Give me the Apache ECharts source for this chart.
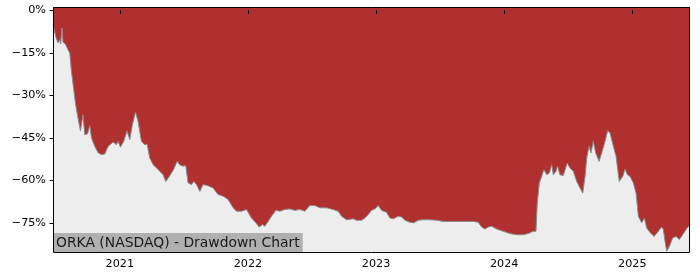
<!DOCTYPE html>
<html>
<head>
<meta charset="utf-8">
<script src="https://cdn.jsdelivr.net/npm/echarts@6/dist/echarts.min.js"></script>
<style>html,body{margin:0;padding:0;background:#fff}#c{width:700px;height:280px}</style>
</head>
<body>
<div id="c"></div>
<script>
// Dates as fractional years, drawdown in percent
const dates = [
2020.479,2020.500,2020.518,2020.532,2020.539,2020.549,2020.557,2020.576,2020.596,2020.610,
2020.623,2020.641,2020.656,2020.674,2020.693,2020.713,2020.727,2020.748,2020.766,2020.779,
2020.805,2020.831,2020.857,2020.883,2020.909,2020.948,2020.974,2020.987,2021.005,2021.031,
2021.057,2021.078,2021.099,2021.123,2021.143,2021.169,2021.195,2021.213,2021.234,2021.260,
2021.287,2021.312,2021.338,2021.359,2021.390,2021.422,2021.447,2021.468,2021.494,2021.515,
2021.533,2021.560,2021.578,2021.599,2021.625,2021.650,2021.689,2021.728,2021.767,2021.807,
2021.846,2021.885,2021.911,2021.950,2021.989,2022.028,2022.062,2022.088,2022.114,2022.132,
2022.158,2022.184,2022.218,2022.249,2022.288,2022.327,2022.366,2022.405,2022.444,2022.483,
2022.522,2022.562,2022.614,2022.665,2022.704,2022.731,2022.770,2022.782,2022.822,2022.848,
2022.861,2022.887,2022.913,2022.939,2022.965,2022.991,2023.017,2023.043,2023.082,2023.108,
2023.134,2023.173,2023.199,2023.225,2023.264,2023.295,2023.329,2023.368,2023.420,2023.473,
2023.524,2023.602,2023.680,2023.758,2023.797,2023.824,2023.850,2023.876,2023.902,2023.941,
2023.993,2024.045,2024.097,2024.149,2024.188,2024.227,2024.248,2024.258,2024.274,2024.292,
2024.310,2024.332,2024.352,2024.371,2024.383,2024.404,2024.417,2024.435,2024.461,2024.492,
2024.513,2024.539,2024.566,2024.592,2024.613,2024.631,2024.644,2024.662,2024.677,2024.695,
2024.714,2024.740,2024.761,2024.787,2024.808,2024.826,2024.852,2024.873,2024.898,2024.925,
2024.943,2024.961,2024.982,2025.008,2025.029,2025.047,2025.073,2025.094,2025.112,2025.138,
2025.169,2025.203,2025.229,2025.242,2025.255,2025.268,2025.289,2025.315,2025.341,2025.367,
2025.393,2025.419,2025.450
];
const drawdown = [
-5.0,-9.2,-11.5,-10.3,-11.9,-6.2,-11.2,-11.9,-13.9,-15.0,
-21.5,-28.0,-33.3,-38.0,-42.5,-36.8,-43.9,-43.6,-40.6,-45.0,
-48.0,-50.3,-50.9,-50.7,-48.0,-46.5,-47.4,-46.2,-48.3,-46.2,
-42.5,-45.6,-40.3,-35.9,-39.2,-46.2,-47.4,-47.2,-52.1,-54.5,
-55.6,-56.8,-58.0,-60.4,-58.4,-56.0,-53.3,-54.5,-55.0,-54.8,
-60.9,-61.5,-60.4,-61.5,-63.9,-61.5,-61.9,-62.7,-65.0,-65.6,
-66.8,-69.7,-70.9,-70.9,-70.3,-73.3,-75.0,-76.5,-75.6,-76.2,
-74.5,-72.7,-70.6,-70.9,-70.3,-70.1,-70.6,-70.3,-70.9,-68.9,
-68.9,-69.7,-69.7,-70.3,-70.9,-72.7,-73.9,-73.9,-73.6,-74.1,
-74.8,-74.1,-73.3,-72.1,-70.6,-70.1,-68.9,-70.6,-71.3,-73.3,
-73.6,-72.7,-72.9,-74.1,-74.8,-75.0,-74.1,-73.9,-73.9,-74.1,
-74.5,-74.5,-74.5,-74.5,-74.8,-76.5,-77.2,-76.5,-76.2,-77.2,
-78.0,-78.8,-79.2,-79.2,-78.8,-78.0,-78.0,-68.0,-60.9,-58.6,
-56.2,-58.0,-57.4,-54.5,-58.0,-56.8,-55.0,-58.0,-58.3,-53.9,
-55.6,-56.8,-60.4,-62.7,-64.5,-58.6,-52.1,-48.0,-50.3,-46.2,
-50.3,-53.3,-50.3,-46.2,-42.4,-43.3,-48.0,-51.5,-60.4,-58.6,
-56.0,-58.0,-58.6,-60.9,-64.5,-72.7,-75.0,-73.3,-76.8,-78.4,
-79.8,-78.0,-76.5,-77.4,-81.5,-85.0,-83.3,-80.3,-79.8,-80.9,
-79.2,-77.4,-75.6
];
const yearTicks = [2021, 2022, 2023, 2024, 2025];
const pctTicks = [0, -15, -30, -45, -60, -75];
const titleText = 'ORKA (NASDAQ) - Drawdown Chart';

const chart = echarts.init(document.getElementById('c'), null, {renderer: 'canvas'});
const FONT = 'DejaVu Sans';
const G = {left: 53, top: 7, width: 637, height: 245};
chart.setOption({
  animation: false,
  backgroundColor: '#ffffff',
  grid: {left: G.left, top: G.top, width: G.width, height: G.height, show: true,
         backgroundColor: '#b03030', borderWidth: 0},
  xAxis: {
    type: 'value', min: 2020.479, max: 2025.45,
    splitLine: {show: false},
    axisLine: {show: false},
    axisTick: {show: true, inside: false, length: 3.5, lineStyle: {color: '#000', width: 1}, customValues: yearTicks},
    axisLabel: {customValues: yearTicks, formatter: v => String(Math.round(v)),
                fontFamily: FONT, fontSize: 11.2, color: '#000', margin: 7}
  },
  yAxis: {
    type: 'value', min: -85.3, max: 1.2,
    splitLine: {show: false},
    axisLine: {show: false},
    axisTick: {show: true, inside: false, length: 3.5, lineStyle: {color: '#000', width: 1}, customValues: pctTicks},
    axisLabel: {customValues: pctTicks, formatter: v => (v < 0 ? '\u2212' + Math.abs(Math.round(v)) : Math.round(v)) + '%',
                fontFamily: FONT, fontSize: 11.2, color: '#000', margin: 7}
  },
  title: {
    text: titleText, left: G.left, top: 233,
    backgroundColor: '#b0b0b0', padding: [2, 3, 1, 3],
    textStyle: {fontFamily: FONT, fontSize: 13.9, fontWeight: 'normal', color: '#1a1a1a', lineHeight: 16}
  },
  graphic: [{
    type: 'rect', z: 100, silent: true,
    shape: {x: G.left + 0.5, y: G.top + 0.5, width: G.width - 1, height: G.height},
    style: {fill: 'none', stroke: '#000', lineWidth: 1}
  }],
  series: [{
    type: 'line', symbol: 'none', smooth: false,
    data: dates.map((d, i) => [d, drawdown[i]]),
    lineStyle: {color: '#8a8a8a', width: 1},
    areaStyle: {color: '#ededed', opacity: 1, origin: 'start'},
    z: 2
  }]
});
</script>
</body>
</html>
